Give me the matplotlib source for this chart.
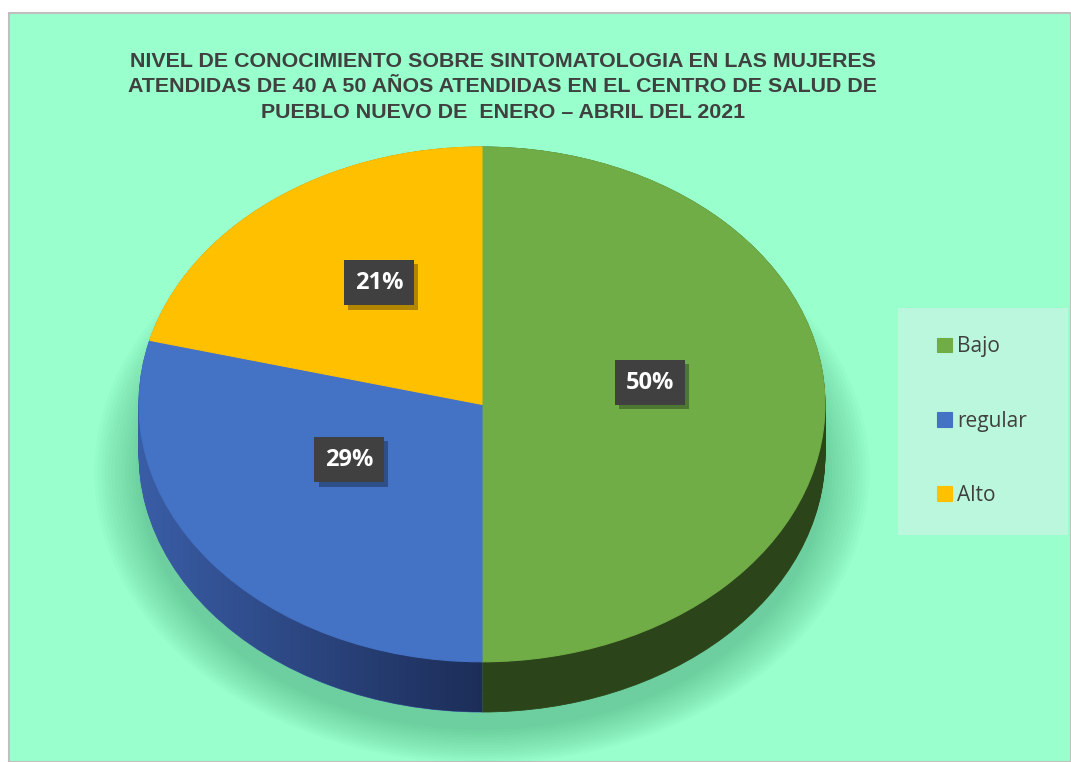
import numpy as np
import matplotlib.pyplot as plt
import matplotlib.patheffects as pe
from matplotlib.patches import Rectangle, Ellipse
from matplotlib.colors import LinearSegmentedColormap

# data
categories = ['Bajo', 'regular', 'Alto']
percentages = [50, 29, 21]
top_colors = ['#70AD47', '#4472C4', '#FFC000']
side_colors = ['#2C4419', '#3A5DA6', '#8F6C00']

title = ('NIVEL DE CONOCIMIENTO SOBRE SINTOMATOLOGIA EN LAS MUJERES\n'
         'ATENDIDAS DE 40 A 50 AÑOS ATENDIDAS EN EL CENTRO DE SALUD DE\n'
         'PUEBLO NUEVO DE  ENERO \u2013 ABRIL DEL 2021')

W, H = 1071, 762
BG = '#99FFCC'
depth = 0.195   # thickness of the pie, in vertical radius units


def fx(px):
    return px / W


def fy(py):
    return 1 - py / H


fig = plt.figure(figsize=(W / 100, H / 100), dpi=100, facecolor='white')

# chart area with thin grey border on top/left
fig.patches.append(Rectangle((fx(9), 0), 1 - fx(9), fy(13), transform=fig.transFigure,
                             facecolor=BG, edgecolor='#BFBFBF', linewidth=1.5, zorder=-5))

ax = fig.add_axes([fx(139), fy(712), fx(686), (712 - 147) / H])
ax.set_facecolor('none')
ax.set_zorder(2)

# soft shadow under the pie
for k in range(14):
    s = 1.0 + 0.01 * k
    ax.add_patch(Ellipse((0, -depth - 0.07), 2 * s, 2 * s, color='#3E9C70',
                         alpha=0.04, lw=0, zorder=0, clip_on=False))

# side wall: stacked copies of the pie, shifted down
layers = np.linspace(depth, 0.0, 40)
bottom_wedges = None
for i, d in enumerate(layers):
    w, _ = ax.pie(percentages, colors=side_colors, startangle=90, counterclock=False,
                  center=(0, -d), radius=1, wedgeprops=dict(linewidth=0.6),
                  frame=True)
    for p, c in zip(w, side_colors):
        p.set_edgecolor(c)
        p.set_zorder(1)
        p.set_clip_on(False)
    if i == 0:
        bottom_wedges = w

# darken the blue wall towards the front
grad = np.linspace(0, 1, 256).reshape(1, -1)
cmap = LinearSegmentedColormap.from_list('shade', [(0.1, 0.16, 0.31, 0.0), (0.1, 0.16, 0.31, 0.9)])
img = ax.imshow(grad, extent=(-1, 0, -1.3, 0.2), cmap=cmap, aspect='auto', zorder=1.5)
img.set_clip_path(bottom_wedges[1])

# top face
wedges, texts, autotexts = ax.pie(percentages, colors=top_colors, startangle=90,
                                  counterclock=False, radius=1, autopct='%1.0f%%',
                                  pctdistance=0.49, wedgeprops=dict(linewidth=0.8),
                                  frame=True,
                                  textprops=dict(color='white', fontsize=17,
                                                 fontweight='bold', family='Open Sans'))
for wdg, c in zip(wedges, top_colors):
    wdg.set_zorder(2)
    wdg.set_edgecolor(c)
    wdg.set_clip_on(False)
for t in autotexts:
    x, y = t.get_position()
    t.set_position((x, y + 0.085))
    t.set_zorder(5)
    t.set_bbox(dict(boxstyle='square,pad=0.45', facecolor='#404040', edgecolor='none'))
    t.get_bbox_patch().set_path_effects(
        [pe.SimplePatchShadow(offset=(3, -3), shadow_rgbFace='black', alpha=0.3), pe.Normal()])

ax.set_aspect('auto')
ax.set_xlim(-1, 1)
ax.set_ylim(-1 - depth, 1)
ax.axis('off')

fig.text(fx(503), fy(87), title, ha='center', va='center', fontsize=15.4,
         fontweight='bold', color='#404040', family='Liberation Sans', linespacing=1.42)

# legend
fig.patches.append(Rectangle((fx(898), fy(535)), fx(170), (535 - 308) / H,
                             transform=fig.transFigure, facecolor='#BBF7DC',
                             edgecolor='none', zorder=-4))
leg = fig.legend(wedges, categories, loc='center left', bbox_to_anchor=(fx(937), fy(421)),
                 frameon=False, prop=dict(family='Open Sans', size=15),
                 handlelength=0.7, handleheight=0.7, handletextpad=0.25,
                 labelspacing=2.55, borderpad=0, borderaxespad=0)
for t in leg.get_texts():
    t.set_color('#404040')

fig.savefig('out.png', dpi=100, facecolor='white')
